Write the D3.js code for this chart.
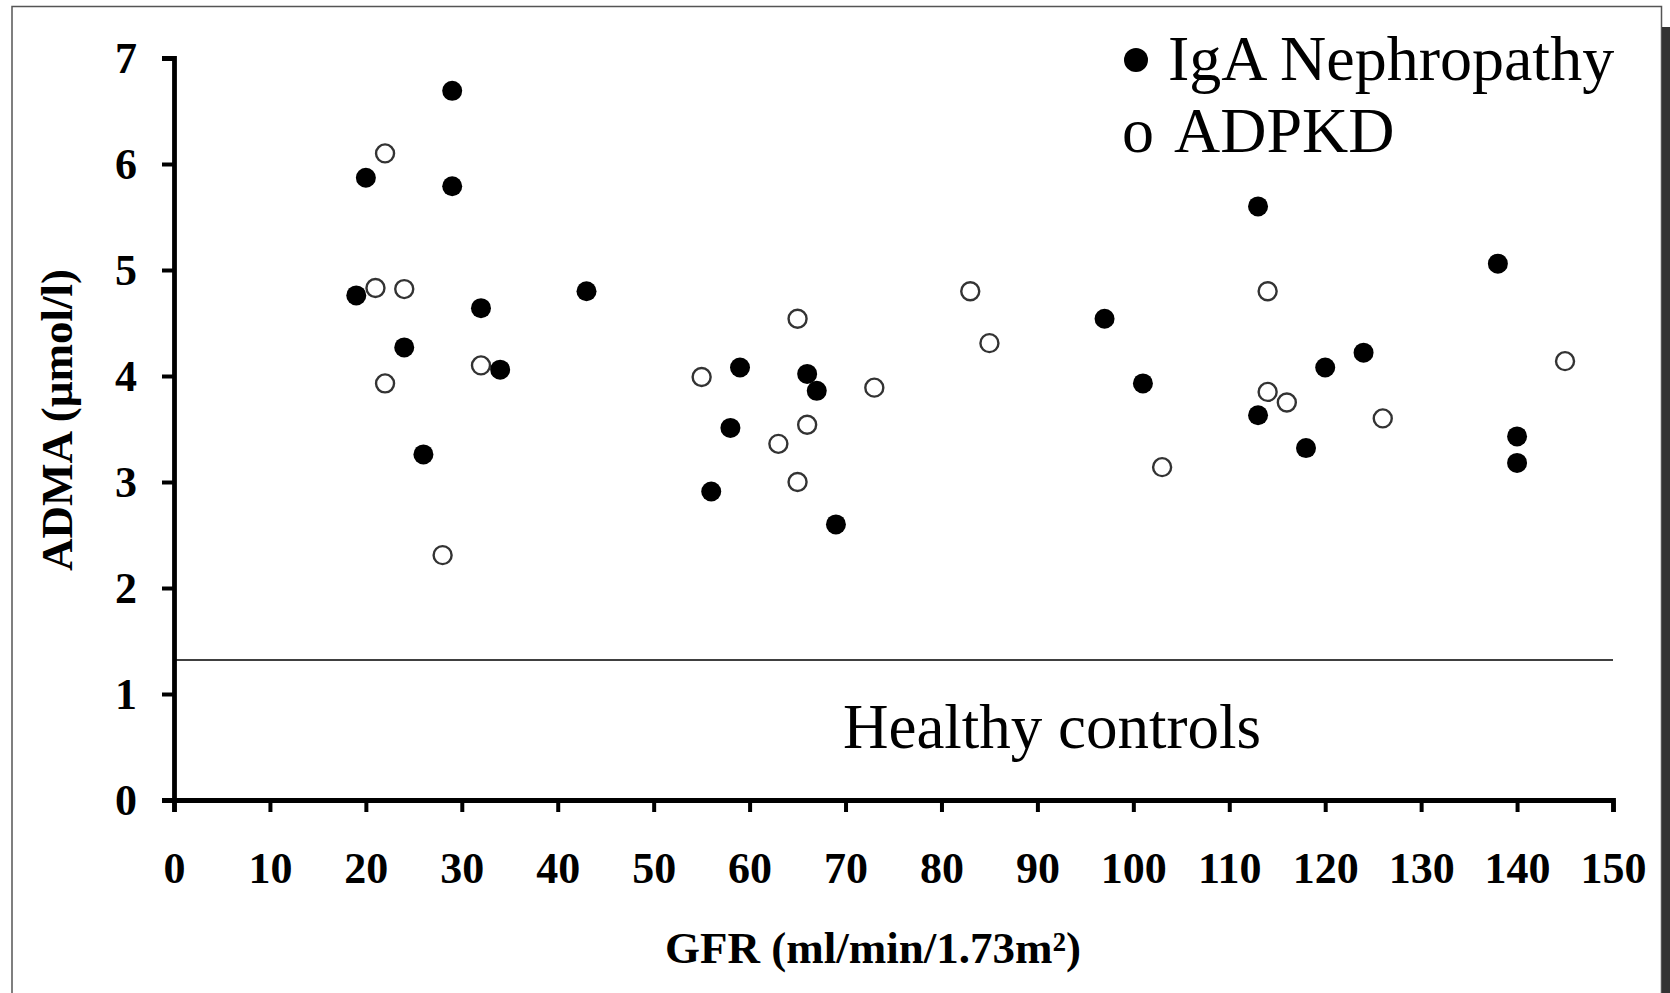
<!DOCTYPE html>
<html>
<head>
    <meta charset="utf-8">
    <title>ADMA vs GFR</title>
    <script src="https://cdn.jsdelivr.net/npm/d3@7/dist/d3.min.js"></script>
    <style>
        body { margin: 0; background: white; }
        text { font-family: "Liberation Serif", "Times New Roman", serif; }
    </style>
</head>
<body>
    <script type="text/javascript">
        // data
        var igaGfr  = [19, 20, 29, 29, 32, 24, 34, 26, 43, 59, 58, 56, 66, 67, 69, 97, 101, 113, 113, 118, 120, 124, 138, 140, 140];
        var igaAdma = [4.76, 5.87, 6.69, 5.79, 4.64, 4.27, 4.06, 3.26, 4.80, 4.08, 3.51, 2.91, 4.02, 3.86, 2.60, 4.54, 3.93, 5.60, 3.63, 3.32, 4.08, 4.22, 5.06, 3.43, 3.18];
        var pkdGfr  = [22, 21, 24, 22, 32, 28, 55, 65, 63, 66, 65, 73, 83, 85, 103, 114, 114, 116, 126, 145];
        var pkdAdma = [6.10, 4.83, 4.82, 3.93, 4.10, 2.31, 3.99, 4.54, 3.36, 3.54, 3.00, 3.89, 4.80, 4.31, 3.14, 4.80, 3.85, 3.75, 3.60, 4.14];
        var healthyLevel = 1.32;
        var xTicks = [0, 10, 20, 30, 40, 50, 60, 70, 80, 90, 100, 110, 120, 130, 140, 150];
        var yTicks = [0, 1, 2, 3, 4, 5, 6, 7];

        var w = 1670;
        var h = 993;

        var svg = d3.select("body")
            .append("svg")
            .attr("width", w)
            .attr("height", h);

        //frame of the figure + dark strip on the right
        svg.append("path")
            .attr("d", "M12,993 V6.5 H1661.5 V993")
            .attr("fill", "none")
            .attr("stroke", "#555")
            .attr("stroke-width", 1.5);
        svg.append("rect")
            .attr("x", 1662)
            .attr("y", 27)
            .attr("width", 8)
            .attr("height", h - 27)
            .attr("fill", "#333");

        var x = d3.scaleLinear().domain([0, 150]).range([174, 1613]);
        var y = d3.scaleLinear().domain([0, 7]).range([800, 58]);

        //axes
        var xAxis = svg.append("g")
            .attr("transform", "translate(0," + y(0) + ")")
            .call(d3.axisBottom(x).tickValues(xTicks).tickFormat(d3.format("d")).tickSize(12).tickPadding(40));
        var yAxis = svg.append("g")
            .attr("transform", "translate(" + x(0) + ",0)")
            .call(d3.axisLeft(y).tickValues(yTicks).tickFormat(d3.format("d")).tickSize(12).tickPadding(25));

        [xAxis, yAxis].forEach(function(a){
            a.select(".domain").attr("stroke", "#000").attr("stroke-width", 4.8);
            a.selectAll(".tick line").attr("stroke", "#000").attr("stroke-width", 4);
            a.selectAll(".tick text")
                .attr("fill", "#000")
                .attr("font-family", "Liberation Serif, Times New Roman, serif")
                .attr("font-weight", "bold")
                .attr("font-size", "44px");
        });

        //healthy controls line
        svg.append("line")
            .attr("x1", x(0))
            .attr("x2", x(150))
            .attr("y1", y(healthyLevel))
            .attr("y2", y(healthyLevel))
            .attr("stroke", "#000")
            .attr("stroke-width", 1.5);
        svg.append("text")
            .text("Healthy controls")
            .attr("x", 1052)
            .attr("y", 748)
            .attr("font-size", "63px")
            .attr("text-anchor", "middle")
            .attr("fill", "#000");

        //points
        var pkd = pkdGfr.map(function(d, i){ return {gfr: d, adma: pkdAdma[i]}; });
        var iga = igaGfr.map(function(d, i){ return {gfr: d, adma: igaAdma[i]}; });

        svg.selectAll("circle.pkd")
            .data(pkd)
            .enter()
            .append("circle")
            .attr("class", "pkd")
            .attr("cx", function(d){ return x(d.gfr); })
            .attr("cy", function(d){ return y(d.adma); })
            .attr("r", 9)
            .attr("fill", "white")
            .attr("stroke", "#333")
            .attr("stroke-width", 2.4);

        svg.selectAll("circle.iga")
            .data(iga)
            .enter()
            .append("circle")
            .attr("class", "iga")
            .attr("cx", function(d){ return x(d.gfr); })
            .attr("cy", function(d){ return y(d.adma); })
            .attr("r", 10)
            .attr("fill", "#000");

        //legend: big bullet for IgA, letter "o" for ADPKD as in the original
        svg.append("circle")
            .attr("cx", 1136)
            .attr("cy", 60)
            .attr("r", 12)
            .attr("fill", "#000");
        svg.append("text")
            .text("IgA Nephropathy")
            .attr("x", 1168)
            .attr("y", 80)
            .attr("font-size", "64px")
            .attr("fill", "#000");
        svg.append("text")
            .text("o")
            .attr("x", 1122)
            .attr("y", 152)
            .attr("font-size", "64px")
            .attr("fill", "#000");
        svg.append("text")
            .text("ADPKD")
            .attr("x", 1174)
            .attr("y", 152)
            .attr("font-size", "64px")
            .attr("fill", "#000");

        //axis titles
        svg.append("text")
            .text("GFR (ml/min/1.73m\u00b2)")
            .attr("x", 873)
            .attr("y", 963)
            .attr("text-anchor", "middle")
            .attr("font-weight", "bold")
            .attr("font-size", "45px")
            .attr("fill", "#000");
        svg.append("text")
            .text("ADMA (\u00b5mol/l)")
            .attr("transform", "translate(72,420) rotate(-90)")
            .attr("text-anchor", "middle")
            .attr("font-weight", "bold")
            .attr("font-size", "45px")
            .attr("fill", "#000");
    </script>
</body>
</html>
